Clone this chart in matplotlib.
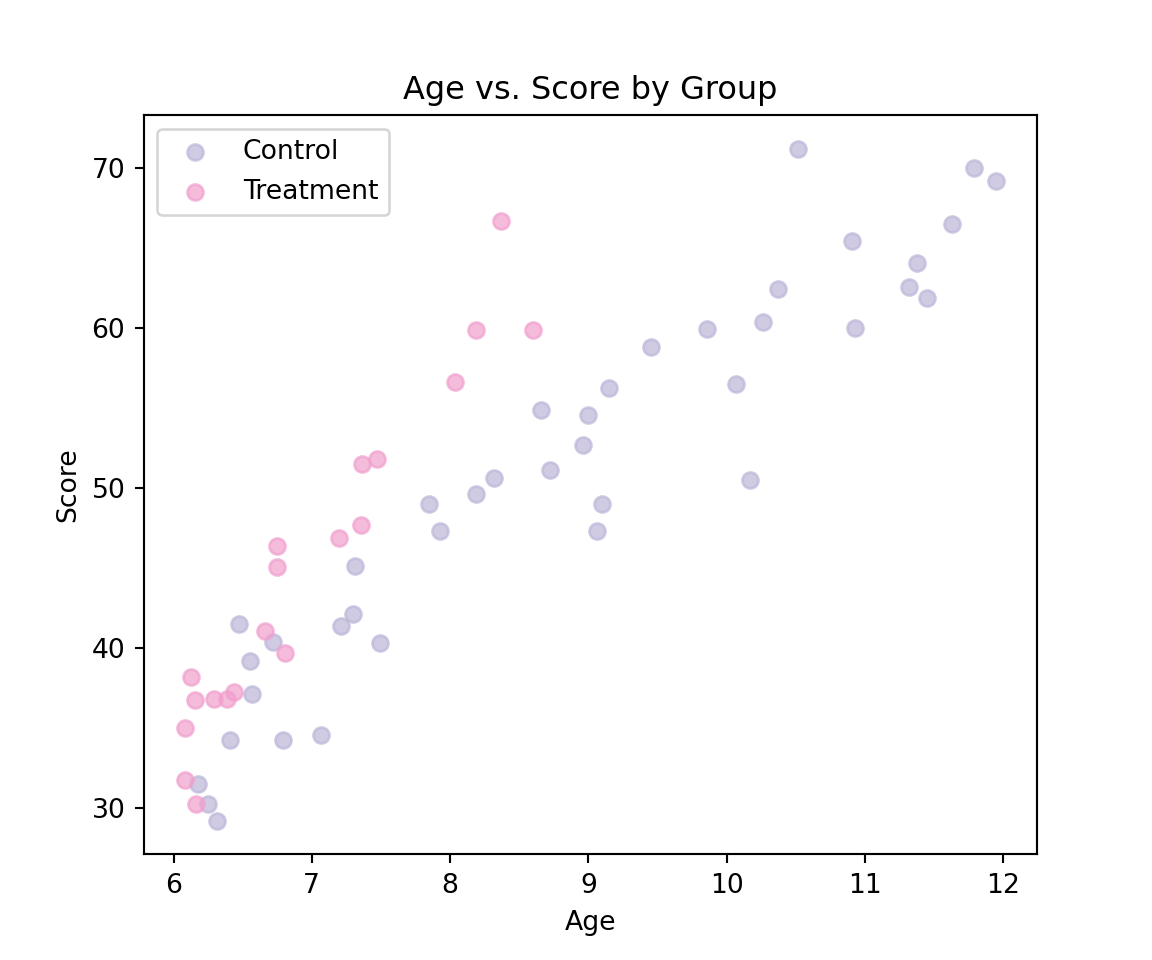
import matplotlib
matplotlib.use("Agg")
import matplotlib.pyplot as plt

control_age = [10.515, 11.79, 11.95, 10.91, 11.63, 11.38, 11.32, 11.45, 10.37, 10.26,
               10.93, 9.857, 9.45, 10.07, 9.148, 8.656, 8.996, 8.96, 8.72, 8.32,
               8.19, 10.17, 7.845, 7.925, 9.097, 9.06, 7.31, 7.295, 7.21, 7.49,
               6.47, 6.716, 6.55, 6.57, 6.405, 6.79, 7.064, 6.18, 6.246, 6.318]
control_score = [71.19, 70.0, 69.19, 65.44, 66.5, 64.06, 62.56, 61.88, 62.44, 60.38,
                 60.0, 59.94, 58.81, 56.5, 56.25, 54.88, 54.56, 52.69, 51.13, 50.63,
                 49.63, 50.5, 49.0, 47.31, 49.0, 47.31, 45.13, 42.13, 41.38, 40.31,
                 41.5, 40.38, 39.19, 37.13, 34.25, 34.25, 34.56, 31.5, 30.25, 29.19]

treat_age = [8.366, 8.185, 8.598, 8.033, 7.36, 7.469, 7.353, 7.194, 6.745, 6.745,
             6.658, 6.803, 6.123, 6.152, 6.29, 6.39, 6.434, 6.08, 6.08, 6.16]
treat_score = [66.69, 59.88, 59.88, 56.63, 51.5, 51.81, 47.69, 46.88, 46.38, 45.06,
               41.06, 39.69, 38.19, 36.75, 36.81, 36.81, 37.25, 35.0, 31.75, 30.25]

fig, ax = plt.subplots(figsize=(6, 5), dpi=192)
ax.scatter(control_age, control_score, color="#bcb6d8", alpha=0.7, label="Control")
ax.scatter(treat_age, treat_score, color="#f19fcd", alpha=0.7, label="Treatment")
ax.set_title("Age vs. Score by Group")
ax.set_xlabel("Age")
ax.set_ylabel("Score")
ax.legend(loc="upper left")
fig.savefig("out.png", dpi=192)
